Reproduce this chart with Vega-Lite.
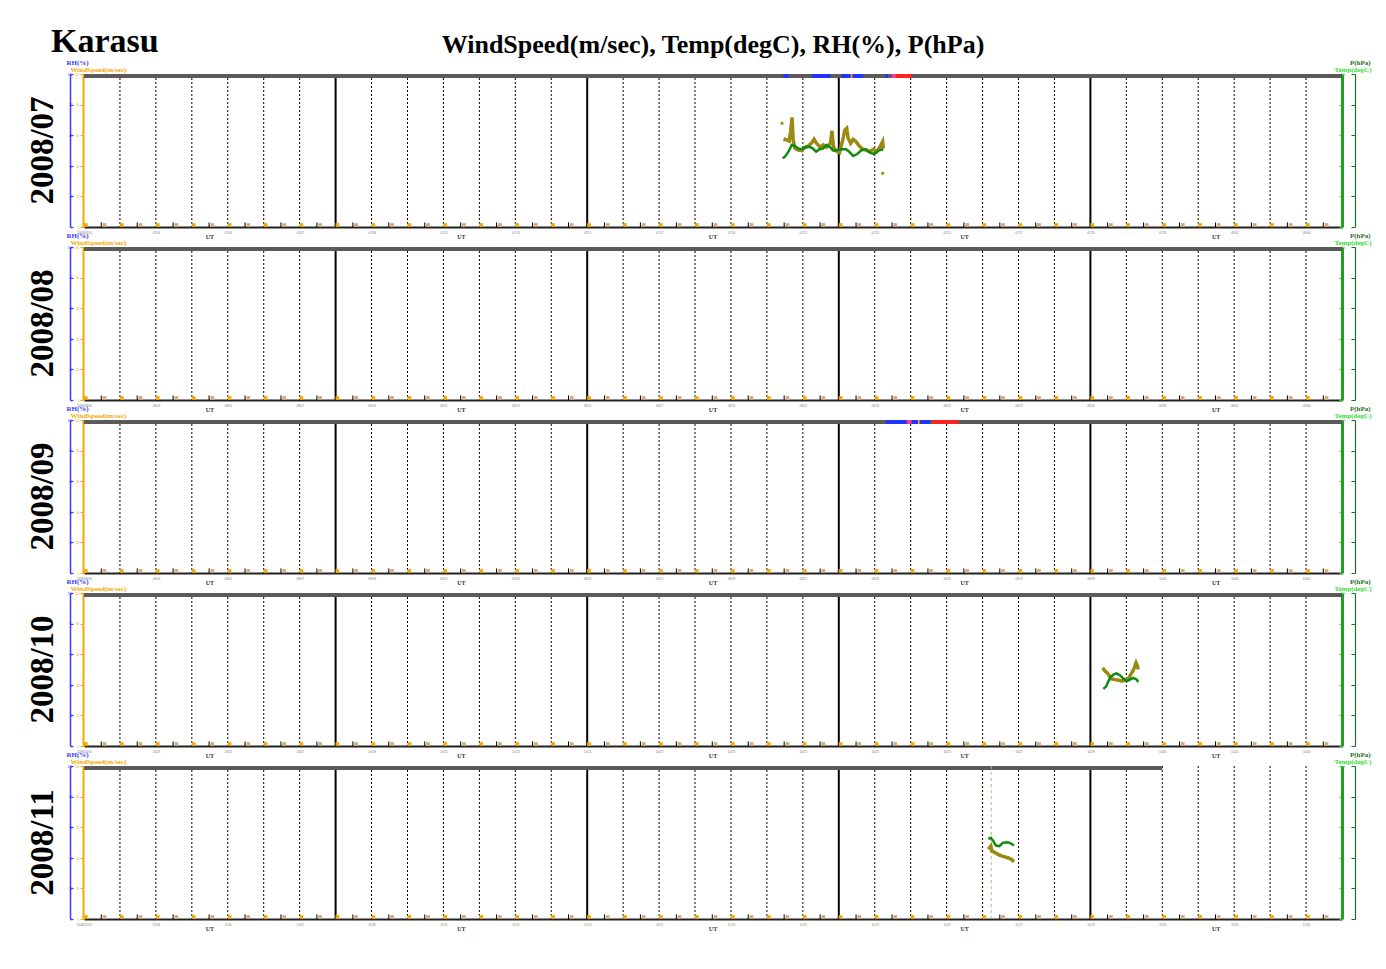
{
  "$schema": "https://vega.github.io/schema/vega-lite/v6.json",
  "padding": {"left": 25, "top": 25, "right": 10, "bottom": 10},
  "background": "#ffffff",
  "title": {"text": "Karasu", "anchor": "start", "font": "Liberation Serif", "fontSize": 34, "fontWeight": "bold", "color": "#000000", "dx": 25, "offset": -27},
  "bounds": "flush",
  "spacing": 20,
  "config": {"view": {"stroke": null}},
  "datasets": {
    "band": [
      {"m": "07", "b0": 0, "b1": 35},
      {"m": "08", "b0": 0, "b1": 35},
      {"m": "09", "b0": 0, "b1": 35},
      {"m": "10", "b0": 0, "b1": 35},
      {"m": "11", "b0": 0, "b1": 30}
    ],
    "segs": [
      {"m": "07", "s0": 19.46, "s1": 19.6, "c": "#2233ff"},
      {"m": "07", "s0": 20.25, "s1": 20.76, "c": "#2233ff"},
      {"m": "07", "s0": 21.08, "s1": 21.68, "c": "#2233ff"},
      {"m": "07", "s0": 21.33, "s1": 21.38, "c": "#f0a000"},
      {"m": "07", "s0": 22.29, "s1": 22.37, "c": "#2233ff"},
      {"m": "07", "s0": 22.47, "s1": 22.6, "c": "#ff3399"},
      {"m": "07", "s0": 22.6, "s1": 23.03, "c": "#ff2222"},
      {"m": "09", "s0": 22.31, "s1": 22.89, "c": "#2233ff"},
      {"m": "09", "s0": 22.89, "s1": 23.03, "c": "#ff3399"},
      {"m": "09", "s0": 23.03, "s1": 23.54, "c": "#2233ff"},
      {"m": "09", "s0": 23.2, "s1": 23.25, "c": "#f0a000"},
      {"m": "09", "s0": 23.59, "s1": 24.33, "c": "#ff2222"}
    ],
    "days": [
      {"g": 0, "sr": 0.05, "ss": 0.57, "h": 0.48}, {"g": 1, "sr": 1.05, "ss": 1.57, "h": 1.48}, {"g": 2, "sr": 2.05, "ss": 2.57, "h": 2.48},
      {"g": 3, "sr": 3.05, "ss": 3.57, "h": 3.48}, {"g": 4, "sr": 4.05, "ss": 4.57, "h": 4.48}, {"g": 5, "sr": 5.05, "ss": 5.57, "h": 5.48},
      {"g": 6, "sr": 6.05, "ss": 6.57, "h": 6.48}, {"g": 7, "sr": 7.05, "ss": 7.57, "h": 7.48}, {"g": 8, "sr": 8.05, "ss": 8.57, "h": 8.48},
      {"g": 9, "sr": 9.05, "ss": 9.57, "h": 9.48}, {"g": 10, "sr": 10.05, "ss": 10.57, "h": 10.48}, {"g": 11, "sr": 11.05, "ss": 11.57, "h": 11.48},
      {"g": 12, "sr": 12.05, "ss": 12.57, "h": 12.48}, {"g": 13, "sr": 13.05, "ss": 13.57, "h": 13.48}, {"g": 14, "sr": 14.05, "ss": 14.57, "h": 14.48},
      {"g": 15, "sr": 15.05, "ss": 15.57, "h": 15.48}, {"g": 16, "sr": 16.05, "ss": 16.57, "h": 16.48}, {"g": 17, "sr": 17.05, "ss": 17.57, "h": 17.48},
      {"g": 18, "sr": 18.05, "ss": 18.57, "h": 18.48}, {"g": 19, "sr": 19.05, "ss": 19.57, "h": 19.48}, {"g": 20, "sr": 20.05, "ss": 20.57, "h": 20.48},
      {"g": 21, "sr": 21.05, "ss": 21.57, "h": 21.48}, {"g": 22, "sr": 22.05, "ss": 22.57, "h": 22.48}, {"g": 23, "sr": 23.05, "ss": 23.57, "h": 23.48},
      {"g": 24, "sr": 24.05, "ss": 24.57, "h": 24.48}, {"g": 25, "sr": 25.05, "ss": 25.57, "h": 25.48}, {"g": 26, "sr": 26.05, "ss": 26.57, "h": 26.48},
      {"g": 27, "sr": 27.05, "ss": 27.57, "h": 27.48}, {"g": 28, "sr": 28.05, "ss": 28.57, "h": 28.48}, {"g": 29, "sr": 29.05, "ss": 29.57, "h": 29.48},
      {"g": 30, "sr": 30.05, "ss": 30.57, "h": 30.48}, {"g": 31, "sr": 31.05, "ss": 31.57, "h": 31.48}, {"g": 32, "sr": 32.05, "ss": 32.57, "h": 32.48},
      {"g": 33, "sr": 33.05, "ss": 33.57, "h": 33.48}, {"g": 34, "sr": 34.05, "ss": 34.57, "h": 34.48}
    ],
    "ut": [{"u": 3.5, "t": "UT"}, {"u": 10.5, "t": "UT"}, {"u": 17.5, "t": "UT"}, {"u": 24.5, "t": "UT"}, {"u": 31.5, "t": "UT"}],
    "vrule": [{"m": "11", "d": 25.24}],
    "iso": [{"m": "07", "d": 19.42, "v": 67.8}, {"m": "07", "d": 22.22, "v": 35.1}],
    "obs": [
      {"m": "07", "s": "t", "d": 19.44, "v": 44.9}, {"m": "07", "s": "t", "d": 19.5, "v": 46.0}, {"m": "07", "s": "t", "d": 19.6, "v": 49.2},
      {"m": "07", "s": "t", "d": 19.69, "v": 53.6}, {"m": "07", "s": "t", "d": 19.78, "v": 52.9}, {"m": "07", "s": "t", "d": 19.87, "v": 51.4},
      {"m": "07", "s": "t", "d": 19.97, "v": 50.8}, {"m": "07", "s": "t", "d": 20.06, "v": 52.1}, {"m": "07", "s": "t", "d": 20.18, "v": 52.5},
      {"m": "07", "s": "t", "d": 20.27, "v": 51.4}, {"m": "07", "s": "t", "d": 20.37, "v": 49.2}, {"m": "07", "s": "t", "d": 20.46, "v": 50.8},
      {"m": "07", "s": "t", "d": 20.57, "v": 51.4}, {"m": "07", "s": "t", "d": 20.66, "v": 53.6}, {"m": "07", "s": "t", "d": 20.76, "v": 52.1},
      {"m": "07", "s": "t", "d": 20.85, "v": 49.9}, {"m": "07", "s": "t", "d": 20.96, "v": 50.3}, {"m": "07", "s": "t", "d": 21.08, "v": 50.8},
      {"m": "07", "s": "t", "d": 21.2, "v": 50.8}, {"m": "07", "s": "t", "d": 21.29, "v": 49.2}, {"m": "07", "s": "t", "d": 21.4, "v": 46.4},
      {"m": "07", "s": "t", "d": 21.51, "v": 47.7}, {"m": "07", "s": "t", "d": 21.64, "v": 50.3}, {"m": "07", "s": "t", "d": 21.76, "v": 50.8},
      {"m": "07", "s": "t", "d": 21.87, "v": 48.6}, {"m": "07", "s": "t", "d": 21.98, "v": 47.7}, {"m": "07", "s": "t", "d": 22.1, "v": 49.9},
      {"m": "07", "s": "t", "d": 22.24, "v": 50.8},
      {"m": "07", "s": "ws", "d": 19.46, "v": 57.5}, {"m": "07", "s": "ws", "d": 19.55, "v": 56.9}, {"m": "07", "s": "ws", "d": 19.62, "v": 56.2},
      {"m": "07", "s": "ws", "d": 19.66, "v": 62.3}, {"m": "07", "s": "ws", "d": 19.7, "v": 71.7}, {"m": "07", "s": "ws", "d": 19.73, "v": 56.9},
      {"m": "07", "s": "ws", "d": 19.78, "v": 51.4}, {"m": "07", "s": "ws", "d": 19.87, "v": 50.3}, {"m": "07", "s": "ws", "d": 19.97, "v": 49.9},
      {"m": "07", "s": "ws", "d": 20.06, "v": 52.1}, {"m": "07", "s": "ws", "d": 20.15, "v": 52.9}, {"m": "07", "s": "ws", "d": 20.25, "v": 55.1},
      {"m": "07", "s": "ws", "d": 20.31, "v": 57.3}, {"m": "07", "s": "ws", "d": 20.38, "v": 54.7}, {"m": "07", "s": "ws", "d": 20.48, "v": 52.1},
      {"m": "07", "s": "ws", "d": 20.57, "v": 53.6}, {"m": "07", "s": "ws", "d": 20.66, "v": 52.1}, {"m": "07", "s": "ws", "d": 20.77, "v": 54.7},
      {"m": "07", "s": "ws", "d": 20.81, "v": 62.9}, {"m": "07", "s": "ws", "d": 20.85, "v": 52.5}, {"m": "07", "s": "ws", "d": 20.92, "v": 49.9},
      {"m": "07", "s": "ws", "d": 21.02, "v": 48.6}, {"m": "07", "s": "ws", "d": 21.11, "v": 56.9}, {"m": "07", "s": "ws", "d": 21.17, "v": 63.4},
      {"m": "07", "s": "ws", "d": 21.22, "v": 64.5}, {"m": "07", "s": "ws", "d": 21.26, "v": 58.0}, {"m": "07", "s": "ws", "d": 21.33, "v": 54.7},
      {"m": "07", "s": "ws", "d": 21.4, "v": 57.3}, {"m": "07", "s": "ws", "d": 21.48, "v": 55.8}, {"m": "07", "s": "ws", "d": 21.57, "v": 52.9},
      {"m": "07", "s": "ws", "d": 21.67, "v": 50.8}, {"m": "07", "s": "ws", "d": 21.76, "v": 50.3}, {"m": "07", "s": "ws", "d": 21.85, "v": 49.2},
      {"m": "07", "s": "ws", "d": 21.96, "v": 50.8}, {"m": "07", "s": "ws", "d": 22.05, "v": 49.2}, {"m": "07", "s": "ws", "d": 22.14, "v": 52.1},
      {"m": "07", "s": "ws", "d": 22.22, "v": 55.8}, {"m": "07", "s": "ws", "d": 22.24, "v": 51.4},
      {"m": "10", "s": "t", "d": 28.36, "v": 37.3}, {"m": "10", "s": "t", "d": 28.44, "v": 39.0}, {"m": "10", "s": "t", "d": 28.5, "v": 42.3},
      {"m": "10", "s": "t", "d": 28.57, "v": 45.2}, {"m": "10", "s": "t", "d": 28.64, "v": 46.7}, {"m": "10", "s": "t", "d": 28.73, "v": 47.4},
      {"m": "10", "s": "t", "d": 28.83, "v": 46.1}, {"m": "10", "s": "t", "d": 28.92, "v": 43.9}, {"m": "10", "s": "t", "d": 29.01, "v": 42.3},
      {"m": "10", "s": "t", "d": 29.1, "v": 43.4}, {"m": "10", "s": "t", "d": 29.19, "v": 44.5}, {"m": "10", "s": "t", "d": 29.29, "v": 43.4},
      {"m": "10", "s": "t", "d": 29.33, "v": 41.7},
      {"m": "10", "s": "ws", "d": 28.34, "v": 51.1}, {"m": "10", "s": "ws", "d": 28.41, "v": 48.9}, {"m": "10", "s": "ws", "d": 28.47, "v": 47.8},
      {"m": "10", "s": "ws", "d": 28.53, "v": 45.6}, {"m": "10", "s": "ws", "d": 28.59, "v": 43.9}, {"m": "10", "s": "ws", "d": 28.69, "v": 43.4},
      {"m": "10", "s": "ws", "d": 28.78, "v": 43.0}, {"m": "10", "s": "ws", "d": 28.87, "v": 42.3}, {"m": "10", "s": "ws", "d": 28.97, "v": 43.0},
      {"m": "10", "s": "ws", "d": 29.06, "v": 43.9}, {"m": "10", "s": "ws", "d": 29.12, "v": 46.7}, {"m": "10", "s": "ws", "d": 29.18, "v": 48.9},
      {"m": "10", "s": "ws", "d": 29.22, "v": 51.1}, {"m": "10", "s": "ws", "d": 29.27, "v": 54.4}, {"m": "10", "s": "ws", "d": 29.31, "v": 52.2},
      {"m": "10", "s": "ws", "d": 29.33, "v": 50.0},
      {"m": "11", "s": "t", "d": 25.16, "v": 52.4}, {"m": "11", "s": "t", "d": 25.23, "v": 53.1}, {"m": "11", "s": "t", "d": 25.3, "v": 50.9},
      {"m": "11", "s": "t", "d": 25.37, "v": 48.0}, {"m": "11", "s": "t", "d": 25.47, "v": 47.6}, {"m": "11", "s": "t", "d": 25.56, "v": 49.8},
      {"m": "11", "s": "t", "d": 25.67, "v": 50.2}, {"m": "11", "s": "t", "d": 25.76, "v": 49.8}, {"m": "11", "s": "t", "d": 25.87, "v": 48.0},
      {"m": "11", "s": "ws", "d": 25.16, "v": 45.6}, {"m": "11", "s": "ws", "d": 25.23, "v": 47.8}, {"m": "11", "s": "ws", "d": 25.26, "v": 44.3},
      {"m": "11", "s": "ws", "d": 25.35, "v": 43.4}, {"m": "11", "s": "ws", "d": 25.44, "v": 42.1}, {"m": "11", "s": "ws", "d": 25.53, "v": 41.2},
      {"m": "11", "s": "ws", "d": 25.62, "v": 40.6}, {"m": "11", "s": "ws", "d": 25.72, "v": 39.9}, {"m": "11", "s": "ws", "d": 25.81, "v": 39.0},
      {"m": "11", "s": "ws", "d": 25.87, "v": 37.3}
    ]
  },
  "vconcat": [
    {
      "width": 1258, "height": 153,
      "title": {"text": "WindSpeed(m/sec), Temp(degC), RH(%), P(hPa)", "anchor": "middle", "frame": "group", "font": "Liberation Serif", "fontSize": 26, "fontWeight": "bold", "color": "#000000", "offset": 0},
      "resolve": {"scale": {"y": "independent"}},
      "layer": [
        {"data": {"name": "days"}, "transform": [{"filter": "datum.g > 0 && datum.g % 7 != 0"}],
         "mark": {"type": "rule", "color": "#000000", "strokeWidth": 1, "strokeDash": [2, 2]},
         "encoding": {
           "x": {"field": "g", "type": "quantitative", "scale": {"domain": [0, 35], "nice": false, "zero": false},
                 "axis": {"values": [0,1,2,3,4,5,6,7,8,9,10,11,12,13,14,15,16,17,18,19,20,21,22,23,24,25,26,27,28,29,30,31,32,33,34,35],
                          "grid": false, "labelOverlap": false, "labelBound": false, "labelFlush": false,
                          "domainColor": "#222222", "domainWidth": 2, "ticks": false, "labelFontSize": 3, "labelColor": "#777777", "labelPadding": 4,
                          "labelExpr": "datum.value == 0 ? '2008/07/01' : timeFormat(datetime(2008, 6, 1 + datum.value), '%m/%d')", "title": null}}
         }},
        {"data": {"name": "days"}, "transform": [{"filter": "datum.g > 0 && datum.g % 7 == 0"}],
         "mark": {"type": "rule", "color": "#000000", "strokeWidth": 2},
         "encoding": {"x": {"field": "g", "type": "quantitative"}}},
        {"data": {"name": "band"}, "transform": [{"filter": "datum.m == '07'"}],
         "mark": {"type": "rect", "color": "#5a5a5a"},
         "encoding": {
           "x": {"field": "b0", "type": "quantitative"},
           "x2": {"field": "b1"},
           "y": {"datum": 97.4, "type": "quantitative", "scale": {"domain": [0, 100], "nice": false, "zero": false},
                 "axis": {"orient": "left", "offset": 14, "values": [0, 20, 40, 60, 80, 100], "domainColor": "#3a3aff", "domainWidth": 1.5, "tickColor": "#3a3aff", "tickSize": -3, "labelFontSize": 3, "labelColor": "#3a3aff", "labelPadding": 1, "grid": false,
                          "title": "2008/07", "titleAngle": 270, "titleX": -28, "titleY": 76, "titleAlign": "center", "titleBaseline": "middle", "titleFont": "Liberation Serif", "titleFontSize": 33, "titleFontWeight": "bold", "titleColor": "#000000"}},
           "y2": {"datum": 100}
         }},
        {"data": {"name": "segs"}, "transform": [{"filter": "datum.m == '07'"}],
         "mark": {"type": "rect"},
         "encoding": {
           "x": {"field": "s0", "type": "quantitative"}, "x2": {"field": "s1"},
           "y": {"datum": 97.4, "type": "quantitative", "scale": {"domain": [0, 100], "nice": false, "zero": false},
                 "axis": {"orient": "left", "offset": 14, "domain": false, "ticks": false, "labels": false, "grid": false,
                          "title": "RH(%)", "titleAngle": 0, "titleX": -4, "titleY": -12, "titleAlign": "left", "titleBaseline": "middle", "titleFont": "Liberation Serif", "titleFontSize": 7, "titleFontWeight": "bold", "titleColor": "#3a3aff"}},
           "y2": {"datum": 100},
           "color": {"field": "c", "type": "nominal", "scale": null}
         }},
        {"data": {"name": "days"},
         "mark": {"type": "rule", "color": "#000000", "strokeWidth": 1},
         "encoding": {
           "x": {"field": "h", "type": "quantitative"},
           "y": {"datum": 0, "type": "quantitative", "scale": {"domain": [0, 100], "nice": false, "zero": false},
                 "axis": {"orient": "right", "offset": 13, "values": [0, 20, 40, 60, 80, 100], "domainColor": "#1f6f1f", "domainWidth": 1.2, "tickColor": "#1f6f1f", "tickSize": -4, "labels": false, "grid": false,
                          "title": "P(hPa)", "titleAngle": 0, "titleX": 15, "titleY": -12, "titleAlign": "right", "titleBaseline": "middle", "titleFont": "Liberation Serif", "titleFontSize": 7, "titleFontWeight": "bold", "titleColor": "#1f6f1f"}},
           "y2": {"datum": 3}
         }},
        {"data": {"name": "days"},
         "mark": {"type": "point", "shape": "square", "filled": true, "color": "#f2a900", "size": 14, "opacity": 1},
         "encoding": {
           "x": {"field": "sr", "type": "quantitative"},
           "y": {"datum": 1.3, "type": "quantitative", "scale": {"domain": [0, 100], "nice": false, "zero": false}, "axis": null}
         }},
        {"data": {"name": "days"},
         "mark": {"type": "point", "shape": "square", "filled": true, "color": "#d2aa80", "size": 14, "opacity": 1},
         "encoding": {
           "x": {"field": "ss", "type": "quantitative"},
           "y": {"datum": 1.3, "type": "quantitative", "scale": {"domain": [0, 100], "nice": false, "zero": false}, "axis": null}
         }},
        {"data": {"name": "obs"}, "transform": [{"filter": "datum.m == '07' && datum.s == 'ws'"}],
         "mark": {"type": "line", "color": "#9a8a12", "strokeWidth": 3.5},
         "encoding": {
           "x": {"field": "d", "type": "quantitative"},
           "y": {"field": "v", "type": "quantitative", "scale": {"domain": [0, 100], "nice": false, "zero": false},
                 "axis": {"orient": "left", "offset": 1, "values": [0, 20, 40, 60, 80, 100], "domainColor": "#f2a900", "domainWidth": 2, "tickColor": "#f2a900", "tickSize": 3, "labelFontSize": 3, "labelColor": "#f2a900", "labelPadding": 1, "grid": false,
                          "title": "WindSpeed(m/sec)", "titleAngle": 0, "titleX": -13, "titleY": -5, "titleAlign": "left", "titleBaseline": "middle", "titleFont": "Liberation Serif", "titleFontSize": 7, "titleFontWeight": "bold", "titleColor": "#f2a900"}}
         }},
        {"data": {"name": "iso"}, "transform": [{"filter": "datum.m == '07'"}],
         "mark": {"type": "point", "shape": "square", "filled": true, "color": "#9a8a12", "size": 8, "opacity": 1},
         "encoding": {
           "x": {"field": "d", "type": "quantitative"},
           "y": {"field": "v", "type": "quantitative", "scale": {"domain": [0, 100], "nice": false, "zero": false}, "axis": null}
         }},
        {"data": {"name": "obs"}, "transform": [{"filter": "datum.m == '07' && datum.s == 't'"}],
         "mark": {"type": "line", "color": "#0e8a0e", "strokeWidth": 2.5},
         "encoding": {
           "x": {"field": "d", "type": "quantitative"},
           "y": {"field": "v", "type": "quantitative", "scale": {"domain": [0, 100], "nice": false, "zero": false},
                 "axis": {"orient": "right", "offset": 0, "values": [0, 20, 40, 60, 80, 100], "domainColor": "#1fa01f", "domainWidth": 3, "tickColor": "#33dd33", "tickSize": -3, "labelFontSize": 3, "labelColor": "#33dd33", "labelPadding": 1, "grid": false,
                          "title": "Temp(degC)", "titleAngle": 0, "titleX": 29, "titleY": -5, "titleAlign": "right", "titleBaseline": "middle", "titleFont": "Liberation Serif", "titleFontSize": 7, "titleFontWeight": "bold", "titleColor": "#33dd33"}}
         }},
        {"data": {"name": "ut"},
         "mark": {"type": "text", "font": "Liberation Serif", "fontSize": 6, "fontWeight": "bold", "color": "#333333"},
         "encoding": {
           "x": {"field": "u", "type": "quantitative"},
           "y": {"datum": -6.5, "type": "quantitative", "scale": {"domain": [0, 100], "nice": false, "zero": false}, "axis": null},
           "text": {"field": "t"}
         }}
      ]
    },
    {
      "width": 1258, "height": 153,
      "resolve": {"scale": {"y": "independent"}},
      "layer": [
        {"data": {"name": "days"}, "transform": [{"filter": "datum.g > 0 && datum.g % 7 != 0"}],
         "mark": {"type": "rule", "color": "#000000", "strokeWidth": 1, "strokeDash": [2, 2]},
         "encoding": {
           "x": {"field": "g", "type": "quantitative", "scale": {"domain": [0, 35], "nice": false, "zero": false},
                 "axis": {"values": [0,1,2,3,4,5,6,7,8,9,10,11,12,13,14,15,16,17,18,19,20,21,22,23,24,25,26,27,28,29,30,31,32,33,34,35],
                          "grid": false, "labelOverlap": false, "labelBound": false, "labelFlush": false,
                          "domainColor": "#222222", "domainWidth": 2, "ticks": false, "labelFontSize": 3, "labelColor": "#777777", "labelPadding": 4,
                          "labelExpr": "datum.value == 0 ? '2008/08/01' : timeFormat(datetime(2008, 7, 1 + datum.value), '%m/%d')", "title": null}}
         }},
        {"data": {"name": "days"}, "transform": [{"filter": "datum.g > 0 && datum.g % 7 == 0"}],
         "mark": {"type": "rule", "color": "#000000", "strokeWidth": 2},
         "encoding": {"x": {"field": "g", "type": "quantitative"}}},
        {"data": {"name": "band"}, "transform": [{"filter": "datum.m == '08'"}],
         "mark": {"type": "rect", "color": "#5a5a5a"},
         "encoding": {
           "x": {"field": "b0", "type": "quantitative"},
           "x2": {"field": "b1"},
           "y": {"datum": 97.4, "type": "quantitative", "scale": {"domain": [0, 100], "nice": false, "zero": false},
                 "axis": {"orient": "left", "offset": 14, "values": [0, 20, 40, 60, 80, 100], "domainColor": "#3a3aff", "domainWidth": 1.5, "tickColor": "#3a3aff", "tickSize": -3, "labelFontSize": 3, "labelColor": "#3a3aff", "labelPadding": 1, "grid": false,
                          "title": "2008/08", "titleAngle": 270, "titleX": -28, "titleY": 76, "titleAlign": "center", "titleBaseline": "middle", "titleFont": "Liberation Serif", "titleFontSize": 33, "titleFontWeight": "bold", "titleColor": "#000000"}},
           "y2": {"datum": 100}
         }},
        {"data": {"name": "segs"}, "transform": [{"filter": "datum.m == '08'"}],
         "mark": {"type": "rect"},
         "encoding": {
           "x": {"field": "s0", "type": "quantitative"}, "x2": {"field": "s1"},
           "y": {"datum": 97.4, "type": "quantitative", "scale": {"domain": [0, 100], "nice": false, "zero": false},
                 "axis": {"orient": "left", "offset": 14, "domain": false, "ticks": false, "labels": false, "grid": false,
                          "title": "RH(%)", "titleAngle": 0, "titleX": -4, "titleY": -12, "titleAlign": "left", "titleBaseline": "middle", "titleFont": "Liberation Serif", "titleFontSize": 7, "titleFontWeight": "bold", "titleColor": "#3a3aff"}},
           "y2": {"datum": 100},
           "color": {"field": "c", "type": "nominal", "scale": null}
         }},
        {"data": {"name": "days"},
         "mark": {"type": "rule", "color": "#000000", "strokeWidth": 1},
         "encoding": {
           "x": {"field": "h", "type": "quantitative"},
           "y": {"datum": 0, "type": "quantitative", "scale": {"domain": [0, 100], "nice": false, "zero": false},
                 "axis": {"orient": "right", "offset": 13, "values": [0, 20, 40, 60, 80, 100], "domainColor": "#1f6f1f", "domainWidth": 1.2, "tickColor": "#1f6f1f", "tickSize": -4, "labels": false, "grid": false,
                          "title": "P(hPa)", "titleAngle": 0, "titleX": 15, "titleY": -12, "titleAlign": "right", "titleBaseline": "middle", "titleFont": "Liberation Serif", "titleFontSize": 7, "titleFontWeight": "bold", "titleColor": "#1f6f1f"}},
           "y2": {"datum": 3}
         }},
        {"data": {"name": "days"},
         "mark": {"type": "point", "shape": "square", "filled": true, "color": "#f2a900", "size": 14, "opacity": 1},
         "encoding": {
           "x": {"field": "sr", "type": "quantitative"},
           "y": {"datum": 1.3, "type": "quantitative", "scale": {"domain": [0, 100], "nice": false, "zero": false}, "axis": null}
         }},
        {"data": {"name": "days"},
         "mark": {"type": "point", "shape": "square", "filled": true, "color": "#d2aa80", "size": 14, "opacity": 1},
         "encoding": {
           "x": {"field": "ss", "type": "quantitative"},
           "y": {"datum": 1.3, "type": "quantitative", "scale": {"domain": [0, 100], "nice": false, "zero": false}, "axis": null}
         }},
        {"data": {"name": "obs"}, "transform": [{"filter": "datum.m == '08' && datum.s == 'ws'"}],
         "mark": {"type": "line", "color": "#9a8a12", "strokeWidth": 3.5},
         "encoding": {
           "x": {"field": "d", "type": "quantitative"},
           "y": {"field": "v", "type": "quantitative", "scale": {"domain": [0, 100], "nice": false, "zero": false},
                 "axis": {"orient": "left", "offset": 1, "values": [0, 20, 40, 60, 80, 100], "domainColor": "#f2a900", "domainWidth": 2, "tickColor": "#f2a900", "tickSize": 3, "labelFontSize": 3, "labelColor": "#f2a900", "labelPadding": 1, "grid": false,
                          "title": "WindSpeed(m/sec)", "titleAngle": 0, "titleX": -13, "titleY": -5, "titleAlign": "left", "titleBaseline": "middle", "titleFont": "Liberation Serif", "titleFontSize": 7, "titleFontWeight": "bold", "titleColor": "#f2a900"}}
         }},
        {"data": {"name": "obs"}, "transform": [{"filter": "datum.m == '08' && datum.s == 't'"}],
         "mark": {"type": "line", "color": "#0e8a0e", "strokeWidth": 2.5},
         "encoding": {
           "x": {"field": "d", "type": "quantitative"},
           "y": {"field": "v", "type": "quantitative", "scale": {"domain": [0, 100], "nice": false, "zero": false},
                 "axis": {"orient": "right", "offset": 0, "values": [0, 20, 40, 60, 80, 100], "domainColor": "#1fa01f", "domainWidth": 3, "tickColor": "#33dd33", "tickSize": -3, "labelFontSize": 3, "labelColor": "#33dd33", "labelPadding": 1, "grid": false,
                          "title": "Temp(degC)", "titleAngle": 0, "titleX": 29, "titleY": -5, "titleAlign": "right", "titleBaseline": "middle", "titleFont": "Liberation Serif", "titleFontSize": 7, "titleFontWeight": "bold", "titleColor": "#33dd33"}}
         }},
        {"data": {"name": "ut"},
         "mark": {"type": "text", "font": "Liberation Serif", "fontSize": 6, "fontWeight": "bold", "color": "#333333"},
         "encoding": {
           "x": {"field": "u", "type": "quantitative"},
           "y": {"datum": -6.5, "type": "quantitative", "scale": {"domain": [0, 100], "nice": false, "zero": false}, "axis": null},
           "text": {"field": "t"}
         }}
      ]
    },
    {
      "width": 1258, "height": 153,
      "resolve": {"scale": {"y": "independent"}},
      "layer": [
        {"data": {"name": "days"}, "transform": [{"filter": "datum.g > 0 && datum.g % 7 != 0"}],
         "mark": {"type": "rule", "color": "#000000", "strokeWidth": 1, "strokeDash": [2, 2]},
         "encoding": {
           "x": {"field": "g", "type": "quantitative", "scale": {"domain": [0, 35], "nice": false, "zero": false},
                 "axis": {"values": [0,1,2,3,4,5,6,7,8,9,10,11,12,13,14,15,16,17,18,19,20,21,22,23,24,25,26,27,28,29,30,31,32,33,34,35],
                          "grid": false, "labelOverlap": false, "labelBound": false, "labelFlush": false,
                          "domainColor": "#222222", "domainWidth": 2, "ticks": false, "labelFontSize": 3, "labelColor": "#777777", "labelPadding": 4,
                          "labelExpr": "datum.value == 0 ? '2008/09/01' : timeFormat(datetime(2008, 8, 1 + datum.value), '%m/%d')", "title": null}}
         }},
        {"data": {"name": "days"}, "transform": [{"filter": "datum.g > 0 && datum.g % 7 == 0"}],
         "mark": {"type": "rule", "color": "#000000", "strokeWidth": 2},
         "encoding": {"x": {"field": "g", "type": "quantitative"}}},
        {"data": {"name": "band"}, "transform": [{"filter": "datum.m == '09'"}],
         "mark": {"type": "rect", "color": "#5a5a5a"},
         "encoding": {
           "x": {"field": "b0", "type": "quantitative"},
           "x2": {"field": "b1"},
           "y": {"datum": 97.4, "type": "quantitative", "scale": {"domain": [0, 100], "nice": false, "zero": false},
                 "axis": {"orient": "left", "offset": 14, "values": [0, 20, 40, 60, 80, 100], "domainColor": "#3a3aff", "domainWidth": 1.5, "tickColor": "#3a3aff", "tickSize": -3, "labelFontSize": 3, "labelColor": "#3a3aff", "labelPadding": 1, "grid": false,
                          "title": "2008/09", "titleAngle": 270, "titleX": -28, "titleY": 76, "titleAlign": "center", "titleBaseline": "middle", "titleFont": "Liberation Serif", "titleFontSize": 33, "titleFontWeight": "bold", "titleColor": "#000000"}},
           "y2": {"datum": 100}
         }},
        {"data": {"name": "segs"}, "transform": [{"filter": "datum.m == '09'"}],
         "mark": {"type": "rect"},
         "encoding": {
           "x": {"field": "s0", "type": "quantitative"}, "x2": {"field": "s1"},
           "y": {"datum": 97.4, "type": "quantitative", "scale": {"domain": [0, 100], "nice": false, "zero": false},
                 "axis": {"orient": "left", "offset": 14, "domain": false, "ticks": false, "labels": false, "grid": false,
                          "title": "RH(%)", "titleAngle": 0, "titleX": -4, "titleY": -12, "titleAlign": "left", "titleBaseline": "middle", "titleFont": "Liberation Serif", "titleFontSize": 7, "titleFontWeight": "bold", "titleColor": "#3a3aff"}},
           "y2": {"datum": 100},
           "color": {"field": "c", "type": "nominal", "scale": null}
         }},
        {"data": {"name": "days"},
         "mark": {"type": "rule", "color": "#000000", "strokeWidth": 1},
         "encoding": {
           "x": {"field": "h", "type": "quantitative"},
           "y": {"datum": 0, "type": "quantitative", "scale": {"domain": [0, 100], "nice": false, "zero": false},
                 "axis": {"orient": "right", "offset": 13, "values": [0, 20, 40, 60, 80, 100], "domainColor": "#1f6f1f", "domainWidth": 1.2, "tickColor": "#1f6f1f", "tickSize": -4, "labels": false, "grid": false,
                          "title": "P(hPa)", "titleAngle": 0, "titleX": 15, "titleY": -12, "titleAlign": "right", "titleBaseline": "middle", "titleFont": "Liberation Serif", "titleFontSize": 7, "titleFontWeight": "bold", "titleColor": "#1f6f1f"}},
           "y2": {"datum": 3}
         }},
        {"data": {"name": "days"},
         "mark": {"type": "point", "shape": "square", "filled": true, "color": "#f2a900", "size": 14, "opacity": 1},
         "encoding": {
           "x": {"field": "sr", "type": "quantitative"},
           "y": {"datum": 1.3, "type": "quantitative", "scale": {"domain": [0, 100], "nice": false, "zero": false}, "axis": null}
         }},
        {"data": {"name": "days"},
         "mark": {"type": "point", "shape": "square", "filled": true, "color": "#d2aa80", "size": 14, "opacity": 1},
         "encoding": {
           "x": {"field": "ss", "type": "quantitative"},
           "y": {"datum": 1.3, "type": "quantitative", "scale": {"domain": [0, 100], "nice": false, "zero": false}, "axis": null}
         }},
        {"data": {"name": "obs"}, "transform": [{"filter": "datum.m == '09' && datum.s == 'ws'"}],
         "mark": {"type": "line", "color": "#9a8a12", "strokeWidth": 3.5},
         "encoding": {
           "x": {"field": "d", "type": "quantitative"},
           "y": {"field": "v", "type": "quantitative", "scale": {"domain": [0, 100], "nice": false, "zero": false},
                 "axis": {"orient": "left", "offset": 1, "values": [0, 20, 40, 60, 80, 100], "domainColor": "#f2a900", "domainWidth": 2, "tickColor": "#f2a900", "tickSize": 3, "labelFontSize": 3, "labelColor": "#f2a900", "labelPadding": 1, "grid": false,
                          "title": "WindSpeed(m/sec)", "titleAngle": 0, "titleX": -13, "titleY": -5, "titleAlign": "left", "titleBaseline": "middle", "titleFont": "Liberation Serif", "titleFontSize": 7, "titleFontWeight": "bold", "titleColor": "#f2a900"}}
         }},
        {"data": {"name": "obs"}, "transform": [{"filter": "datum.m == '09' && datum.s == 't'"}],
         "mark": {"type": "line", "color": "#0e8a0e", "strokeWidth": 2.5},
         "encoding": {
           "x": {"field": "d", "type": "quantitative"},
           "y": {"field": "v", "type": "quantitative", "scale": {"domain": [0, 100], "nice": false, "zero": false},
                 "axis": {"orient": "right", "offset": 0, "values": [0, 20, 40, 60, 80, 100], "domainColor": "#1fa01f", "domainWidth": 3, "tickColor": "#33dd33", "tickSize": -3, "labelFontSize": 3, "labelColor": "#33dd33", "labelPadding": 1, "grid": false,
                          "title": "Temp(degC)", "titleAngle": 0, "titleX": 29, "titleY": -5, "titleAlign": "right", "titleBaseline": "middle", "titleFont": "Liberation Serif", "titleFontSize": 7, "titleFontWeight": "bold", "titleColor": "#33dd33"}}
         }},
        {"data": {"name": "ut"},
         "mark": {"type": "text", "font": "Liberation Serif", "fontSize": 6, "fontWeight": "bold", "color": "#333333"},
         "encoding": {
           "x": {"field": "u", "type": "quantitative"},
           "y": {"datum": -6.5, "type": "quantitative", "scale": {"domain": [0, 100], "nice": false, "zero": false}, "axis": null},
           "text": {"field": "t"}
         }}
      ]
    },
    {
      "width": 1258, "height": 153,
      "resolve": {"scale": {"y": "independent"}},
      "layer": [
        {"data": {"name": "days"}, "transform": [{"filter": "datum.g > 0 && datum.g % 7 != 0"}],
         "mark": {"type": "rule", "color": "#000000", "strokeWidth": 1, "strokeDash": [2, 2]},
         "encoding": {
           "x": {"field": "g", "type": "quantitative", "scale": {"domain": [0, 35], "nice": false, "zero": false},
                 "axis": {"values": [0,1,2,3,4,5,6,7,8,9,10,11,12,13,14,15,16,17,18,19,20,21,22,23,24,25,26,27,28,29,30,31,32,33,34,35],
                          "grid": false, "labelOverlap": false, "labelBound": false, "labelFlush": false,
                          "domainColor": "#222222", "domainWidth": 2, "ticks": false, "labelFontSize": 3, "labelColor": "#777777", "labelPadding": 4,
                          "labelExpr": "datum.value == 0 ? '2008/10/01' : timeFormat(datetime(2008, 9, 1 + datum.value), '%m/%d')", "title": null}}
         }},
        {"data": {"name": "days"}, "transform": [{"filter": "datum.g > 0 && datum.g % 7 == 0"}],
         "mark": {"type": "rule", "color": "#000000", "strokeWidth": 2},
         "encoding": {"x": {"field": "g", "type": "quantitative"}}},
        {"data": {"name": "band"}, "transform": [{"filter": "datum.m == '10'"}],
         "mark": {"type": "rect", "color": "#5a5a5a"},
         "encoding": {
           "x": {"field": "b0", "type": "quantitative"},
           "x2": {"field": "b1"},
           "y": {"datum": 97.4, "type": "quantitative", "scale": {"domain": [0, 100], "nice": false, "zero": false},
                 "axis": {"orient": "left", "offset": 14, "values": [0, 20, 40, 60, 80, 100], "domainColor": "#3a3aff", "domainWidth": 1.5, "tickColor": "#3a3aff", "tickSize": -3, "labelFontSize": 3, "labelColor": "#3a3aff", "labelPadding": 1, "grid": false,
                          "title": "2008/10", "titleAngle": 270, "titleX": -28, "titleY": 76, "titleAlign": "center", "titleBaseline": "middle", "titleFont": "Liberation Serif", "titleFontSize": 33, "titleFontWeight": "bold", "titleColor": "#000000"}},
           "y2": {"datum": 100}
         }},
        {"data": {"name": "segs"}, "transform": [{"filter": "datum.m == '10'"}],
         "mark": {"type": "rect"},
         "encoding": {
           "x": {"field": "s0", "type": "quantitative"}, "x2": {"field": "s1"},
           "y": {"datum": 97.4, "type": "quantitative", "scale": {"domain": [0, 100], "nice": false, "zero": false},
                 "axis": {"orient": "left", "offset": 14, "domain": false, "ticks": false, "labels": false, "grid": false,
                          "title": "RH(%)", "titleAngle": 0, "titleX": -4, "titleY": -12, "titleAlign": "left", "titleBaseline": "middle", "titleFont": "Liberation Serif", "titleFontSize": 7, "titleFontWeight": "bold", "titleColor": "#3a3aff"}},
           "y2": {"datum": 100},
           "color": {"field": "c", "type": "nominal", "scale": null}
         }},
        {"data": {"name": "days"},
         "mark": {"type": "rule", "color": "#000000", "strokeWidth": 1},
         "encoding": {
           "x": {"field": "h", "type": "quantitative"},
           "y": {"datum": 0, "type": "quantitative", "scale": {"domain": [0, 100], "nice": false, "zero": false},
                 "axis": {"orient": "right", "offset": 13, "values": [0, 20, 40, 60, 80, 100], "domainColor": "#1f6f1f", "domainWidth": 1.2, "tickColor": "#1f6f1f", "tickSize": -4, "labels": false, "grid": false,
                          "title": "P(hPa)", "titleAngle": 0, "titleX": 15, "titleY": -12, "titleAlign": "right", "titleBaseline": "middle", "titleFont": "Liberation Serif", "titleFontSize": 7, "titleFontWeight": "bold", "titleColor": "#1f6f1f"}},
           "y2": {"datum": 3}
         }},
        {"data": {"name": "days"},
         "mark": {"type": "point", "shape": "square", "filled": true, "color": "#f2a900", "size": 14, "opacity": 1},
         "encoding": {
           "x": {"field": "sr", "type": "quantitative"},
           "y": {"datum": 1.3, "type": "quantitative", "scale": {"domain": [0, 100], "nice": false, "zero": false}, "axis": null}
         }},
        {"data": {"name": "days"},
         "mark": {"type": "point", "shape": "square", "filled": true, "color": "#d2aa80", "size": 14, "opacity": 1},
         "encoding": {
           "x": {"field": "ss", "type": "quantitative"},
           "y": {"datum": 1.3, "type": "quantitative", "scale": {"domain": [0, 100], "nice": false, "zero": false}, "axis": null}
         }},
        {"data": {"name": "obs"}, "transform": [{"filter": "datum.m == '10' && datum.s == 'ws'"}],
         "mark": {"type": "line", "color": "#9a8a12", "strokeWidth": 3.5},
         "encoding": {
           "x": {"field": "d", "type": "quantitative"},
           "y": {"field": "v", "type": "quantitative", "scale": {"domain": [0, 100], "nice": false, "zero": false},
                 "axis": {"orient": "left", "offset": 1, "values": [0, 20, 40, 60, 80, 100], "domainColor": "#f2a900", "domainWidth": 2, "tickColor": "#f2a900", "tickSize": 3, "labelFontSize": 3, "labelColor": "#f2a900", "labelPadding": 1, "grid": false,
                          "title": "WindSpeed(m/sec)", "titleAngle": 0, "titleX": -13, "titleY": -5, "titleAlign": "left", "titleBaseline": "middle", "titleFont": "Liberation Serif", "titleFontSize": 7, "titleFontWeight": "bold", "titleColor": "#f2a900"}}
         }},
        {"data": {"name": "obs"}, "transform": [{"filter": "datum.m == '10' && datum.s == 't'"}],
         "mark": {"type": "line", "color": "#0e8a0e", "strokeWidth": 2.5},
         "encoding": {
           "x": {"field": "d", "type": "quantitative"},
           "y": {"field": "v", "type": "quantitative", "scale": {"domain": [0, 100], "nice": false, "zero": false},
                 "axis": {"orient": "right", "offset": 0, "values": [0, 20, 40, 60, 80, 100], "domainColor": "#1fa01f", "domainWidth": 3, "tickColor": "#33dd33", "tickSize": -3, "labelFontSize": 3, "labelColor": "#33dd33", "labelPadding": 1, "grid": false,
                          "title": "Temp(degC)", "titleAngle": 0, "titleX": 29, "titleY": -5, "titleAlign": "right", "titleBaseline": "middle", "titleFont": "Liberation Serif", "titleFontSize": 7, "titleFontWeight": "bold", "titleColor": "#33dd33"}}
         }},
        {"data": {"name": "ut"},
         "mark": {"type": "text", "font": "Liberation Serif", "fontSize": 6, "fontWeight": "bold", "color": "#333333"},
         "encoding": {
           "x": {"field": "u", "type": "quantitative"},
           "y": {"datum": -6.5, "type": "quantitative", "scale": {"domain": [0, 100], "nice": false, "zero": false}, "axis": null},
           "text": {"field": "t"}
         }}
      ]
    },
    {
      "width": 1258, "height": 153,
      "resolve": {"scale": {"y": "independent"}},
      "layer": [
        {"data": {"name": "days"}, "transform": [{"filter": "datum.g > 0 && datum.g % 7 != 0"}],
         "mark": {"type": "rule", "color": "#000000", "strokeWidth": 1, "strokeDash": [2, 2]},
         "encoding": {
           "x": {"field": "g", "type": "quantitative", "scale": {"domain": [0, 35], "nice": false, "zero": false},
                 "axis": {"values": [0,1,2,3,4,5,6,7,8,9,10,11,12,13,14,15,16,17,18,19,20,21,22,23,24,25,26,27,28,29,30,31,32,33,34,35],
                          "grid": false, "labelOverlap": false, "labelBound": false, "labelFlush": false,
                          "domainColor": "#222222", "domainWidth": 2, "ticks": false, "labelFontSize": 3, "labelColor": "#777777", "labelPadding": 4,
                          "labelExpr": "datum.value == 0 ? '2008/11/01' : timeFormat(datetime(2008, 10, 1 + datum.value), '%m/%d')", "title": null}}
         }},
        {"data": {"name": "days"}, "transform": [{"filter": "datum.g > 0 && datum.g % 7 == 0"}],
         "mark": {"type": "rule", "color": "#000000", "strokeWidth": 2},
         "encoding": {"x": {"field": "g", "type": "quantitative"}}},
        {"data": {"name": "band"}, "transform": [{"filter": "datum.m == '11'"}],
         "mark": {"type": "rect", "color": "#5a5a5a"},
         "encoding": {
           "x": {"field": "b0", "type": "quantitative"},
           "x2": {"field": "b1"},
           "y": {"datum": 97.4, "type": "quantitative", "scale": {"domain": [0, 100], "nice": false, "zero": false},
                 "axis": {"orient": "left", "offset": 14, "values": [0, 20, 40, 60, 80, 100], "domainColor": "#3a3aff", "domainWidth": 1.5, "tickColor": "#3a3aff", "tickSize": -3, "labelFontSize": 3, "labelColor": "#3a3aff", "labelPadding": 1, "grid": false,
                          "title": "2008/11", "titleAngle": 270, "titleX": -28, "titleY": 76, "titleAlign": "center", "titleBaseline": "middle", "titleFont": "Liberation Serif", "titleFontSize": 33, "titleFontWeight": "bold", "titleColor": "#000000"}},
           "y2": {"datum": 100}
         }},
        {"data": {"name": "segs"}, "transform": [{"filter": "datum.m == '11'"}],
         "mark": {"type": "rect"},
         "encoding": {
           "x": {"field": "s0", "type": "quantitative"}, "x2": {"field": "s1"},
           "y": {"datum": 97.4, "type": "quantitative", "scale": {"domain": [0, 100], "nice": false, "zero": false},
                 "axis": {"orient": "left", "offset": 14, "domain": false, "ticks": false, "labels": false, "grid": false,
                          "title": "RH(%)", "titleAngle": 0, "titleX": -4, "titleY": -12, "titleAlign": "left", "titleBaseline": "middle", "titleFont": "Liberation Serif", "titleFontSize": 7, "titleFontWeight": "bold", "titleColor": "#3a3aff"}},
           "y2": {"datum": 100},
           "color": {"field": "c", "type": "nominal", "scale": null}
         }},
        {"data": {"name": "days"},
         "mark": {"type": "rule", "color": "#000000", "strokeWidth": 1},
         "encoding": {
           "x": {"field": "h", "type": "quantitative"},
           "y": {"datum": 0, "type": "quantitative", "scale": {"domain": [0, 100], "nice": false, "zero": false},
                 "axis": {"orient": "right", "offset": 13, "values": [0, 20, 40, 60, 80, 100], "domainColor": "#1f6f1f", "domainWidth": 1.2, "tickColor": "#1f6f1f", "tickSize": -4, "labels": false, "grid": false,
                          "title": "P(hPa)", "titleAngle": 0, "titleX": 15, "titleY": -12, "titleAlign": "right", "titleBaseline": "middle", "titleFont": "Liberation Serif", "titleFontSize": 7, "titleFontWeight": "bold", "titleColor": "#1f6f1f"}},
           "y2": {"datum": 3}
         }},
        {"data": {"name": "days"},
         "mark": {"type": "point", "shape": "square", "filled": true, "color": "#f2a900", "size": 14, "opacity": 1},
         "encoding": {
           "x": {"field": "sr", "type": "quantitative"},
           "y": {"datum": 1.3, "type": "quantitative", "scale": {"domain": [0, 100], "nice": false, "zero": false}, "axis": null}
         }},
        {"data": {"name": "days"},
         "mark": {"type": "point", "shape": "square", "filled": true, "color": "#d2aa80", "size": 14, "opacity": 1},
         "encoding": {
           "x": {"field": "ss", "type": "quantitative"},
           "y": {"datum": 1.3, "type": "quantitative", "scale": {"domain": [0, 100], "nice": false, "zero": false}, "axis": null}
         }},
        {"data": {"name": "vrule"}, "transform": [{"filter": "datum.m == '11'"}],
         "mark": {"type": "rule", "color": "#c8b078", "strokeWidth": 1, "strokeDash": [3, 3]},
         "encoding": {"x": {"field": "d", "type": "quantitative"}}},
        {"data": {"name": "obs"}, "transform": [{"filter": "datum.m == '11' && datum.s == 'ws'"}],
         "mark": {"type": "line", "color": "#9a8a12", "strokeWidth": 3.5},
         "encoding": {
           "x": {"field": "d", "type": "quantitative"},
           "y": {"field": "v", "type": "quantitative", "scale": {"domain": [0, 100], "nice": false, "zero": false},
                 "axis": {"orient": "left", "offset": 1, "values": [0, 20, 40, 60, 80, 100], "domainColor": "#f2a900", "domainWidth": 2, "tickColor": "#f2a900", "tickSize": 3, "labelFontSize": 3, "labelColor": "#f2a900", "labelPadding": 1, "grid": false,
                          "title": "WindSpeed(m/sec)", "titleAngle": 0, "titleX": -13, "titleY": -5, "titleAlign": "left", "titleBaseline": "middle", "titleFont": "Liberation Serif", "titleFontSize": 7, "titleFontWeight": "bold", "titleColor": "#f2a900"}}
         }},
        {"data": {"name": "obs"}, "transform": [{"filter": "datum.m == '11' && datum.s == 't'"}],
         "mark": {"type": "line", "color": "#0e8a0e", "strokeWidth": 2.5},
         "encoding": {
           "x": {"field": "d", "type": "quantitative"},
           "y": {"field": "v", "type": "quantitative", "scale": {"domain": [0, 100], "nice": false, "zero": false},
                 "axis": {"orient": "right", "offset": 0, "values": [0, 20, 40, 60, 80, 100], "domainColor": "#1fa01f", "domainWidth": 3, "tickColor": "#33dd33", "tickSize": -3, "labelFontSize": 3, "labelColor": "#33dd33", "labelPadding": 1, "grid": false,
                          "title": "Temp(degC)", "titleAngle": 0, "titleX": 29, "titleY": -5, "titleAlign": "right", "titleBaseline": "middle", "titleFont": "Liberation Serif", "titleFontSize": 7, "titleFontWeight": "bold", "titleColor": "#33dd33"}}
         }},
        {"data": {"name": "ut"},
         "mark": {"type": "text", "font": "Liberation Serif", "fontSize": 6, "fontWeight": "bold", "color": "#333333"},
         "encoding": {
           "x": {"field": "u", "type": "quantitative"},
           "y": {"datum": -6.5, "type": "quantitative", "scale": {"domain": [0, 100], "nice": false, "zero": false}, "axis": null},
           "text": {"field": "t"}
         }}
      ]
    }
  ]
}
